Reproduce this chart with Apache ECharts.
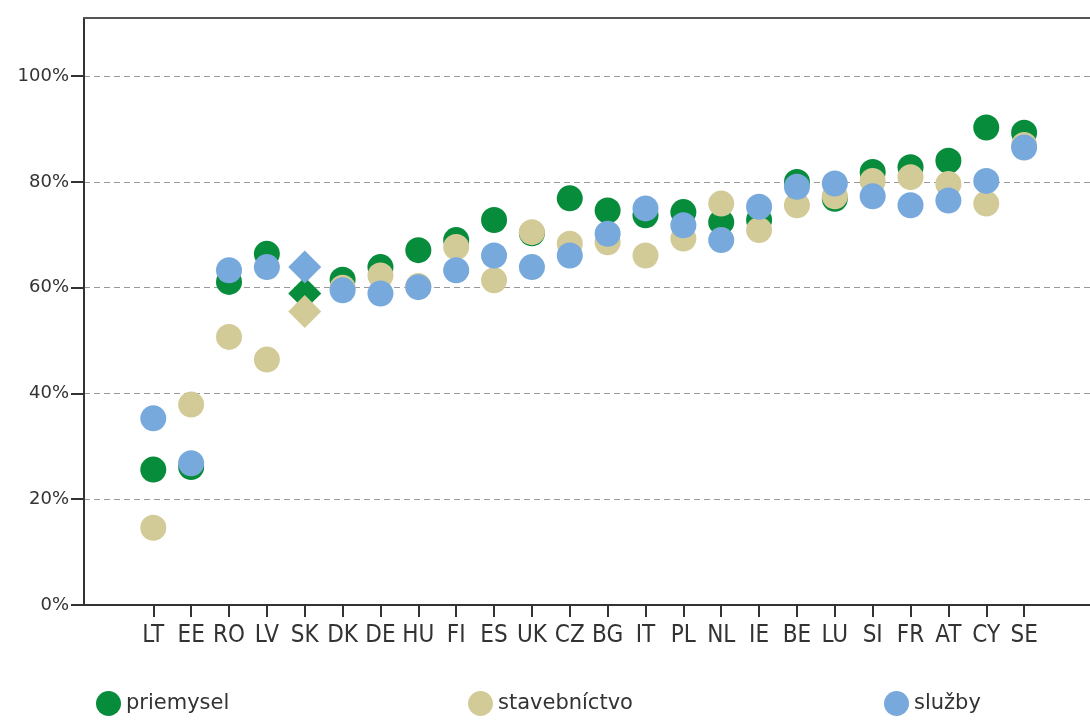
<!DOCTYPE html>
<html>
<head>
<meta charset="utf-8">
<script src="https://cdn.jsdelivr.net/npm/echarts@6/dist/echarts.min.js"></script>
<style>
    html, body { margin: 0; padding: 0; background: #fff; }
    #chart { width: 1090px; height: 720px; }
</style>
</head>
<body>
<div id="chart"></div>
<script>
    // krajiny (poradie podľa osi x)
    var countries = ['LT', 'EE', 'RO', 'LV', 'SK', 'DK', 'DE', 'HU', 'FI', 'ES', 'UK', 'CZ',
        'BG', 'IT', 'PL', 'NL', 'IE', 'BE', 'LU', 'SI', 'FR', 'AT', 'CY', 'SE']
    var priemysel = [25.6, 26.1, 61.1, 66.4, 58.9, 61.5, 63.9, 67.1, 69.0, 72.8, 70.3, 76.9,
        74.6, 73.7, 74.3, 72.4, 72.8, 80.0, 76.8, 81.9, 82.8, 84.0, 90.3, 89.3]
    var stavebnictvo = [14.6, 37.9, 50.7, 46.4, 55.5, 60.0, 62.3, 60.3, 67.7, 61.4, 70.5, 68.3,
        68.6, 66.1, 69.3, 75.9, 70.9, 75.6, 77.3, 80.2, 80.9, 79.6, 75.9, 87.0]
    var sluzby = [35.3, 26.8, 63.3, 63.9, 63.9, 59.5, 58.9, 60.1, 63.3, 66.1, 63.9, 66.1,
        70.2, 75.0, 71.8, 69.0, 75.3, 79.1, 79.7, 77.3, 75.6, 76.5, 80.2, 86.5]
    var yTicks = [0, 20, 40, 60, 80, 100]
    var highlight = 'SK' // Slovensko je kosoštvorec

    var chart = echarts.init(document.getElementById('chart'))

    function points(values) {
        return values.map(function (v, i) {
            var p = { value: [i, v] }
            if (countries[i] === highlight) {
                p.symbol = 'diamond'
                p.symbolSize = 33
            }
            return p
        })
    }

    function makeSeries(name, values, color) {
        return {
            name: name,
            type: 'scatter',
            symbol: 'circle',
            symbolSize: 26,
            itemStyle: { color: color, opacity: 1 },
            data: points(values)
        }
    }

    var legendText = { fontFamily: 'DejaVu Sans', fontSize: 21, color: '#333' }
    function makeLegend(name, left) {
        return {
            data: [name],
            left: left,
            top: 691,
            padding: 0,
            icon: 'circle',
            itemWidth: 25,
            itemHeight: 25,
            selectedMode: false,
            textStyle: legendText
        }
    }

    var idx = countries.map(function (c, i) { return i })
    var xMin = -1.83, xMax = 24.74

    var option = {
        animation: false,
        backgroundColor: '#fff',
        grid: { left: 84, right: 0, top: 18, bottom: 115 },
        legend: [
            makeLegend('priemysel', 96),
            makeLegend('stavebníctvo', 468),
            makeLegend('služby', 884)
        ],
        xAxis: [{
            type: 'value',
            min: xMin,
            max: xMax,
            splitLine: { show: false },
            axisLine: { lineStyle: { color: '#333', width: 2 } },
            axisTick: {
                customValues: idx,
                length: 12,
                lineStyle: { color: '#333', width: 2 }
            },
            axisLabel: {
                customValues: idx,
                formatter: function (v) { return countries[Math.round(v)] },
                fontFamily: 'Liberation Sans Narrow, DejaVu Sans Condensed, Arial Narrow, sans-serif',
                fontSize: 24,
                color: '#333',
                margin: 19
            }
        }, {
            // horný okraj rámu
            type: 'value',
            position: 'top',
            min: xMin,
            max: xMax,
            splitLine: { show: false },
            axisLine: { show: true, onZero: false, lineStyle: { color: '#555', width: 2 } },
            axisTick: { show: false },
            axisLabel: { show: false }
        }],
        yAxis: {
            type: 'value',
            min: 0,
            max: 111,
            axisLine: { show: true, onZero: false, lineStyle: { color: '#333', width: 2 } },
            axisTick: {
                show: true,
                customValues: yTicks,
                length: 13,
                lineStyle: { color: '#333', width: 2 }
            },
            axisLabel: {
                customValues: yTicks,
                formatter: '{value}%',
                fontFamily: 'DejaVu Sans',
                fontSize: 18,
                color: '#333',
                margin: 15
            },
            splitLine: {
                lineStyle: { color: '#999', type: [6, 4], width: 1 }
            }
        },
        series: [
            makeSeries('priemysel', priemysel, '#078c3c'),
            makeSeries('stavebníctvo', stavebnictvo, '#d3cb97'),
            makeSeries('služby', sluzby, '#78a9dc')
        ]
    }

    chart.setOption(option)
</script>
</body>
</html>
